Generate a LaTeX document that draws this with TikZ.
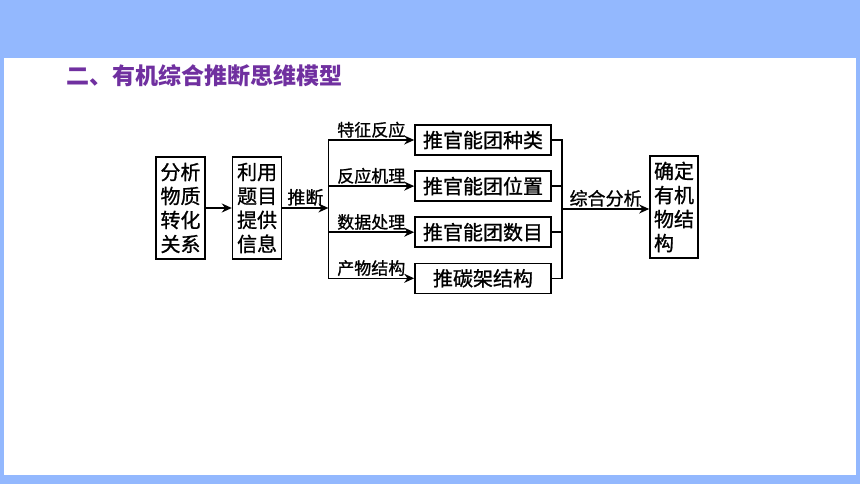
\documentclass[tikz,border=0pt]{standalone}
\usepackage{fontspec}
\setmainfont{Noto Sans CJK SC}
\newfontfamily\boxfont[FakeBold=1]{Noto Sans CJK SC}
\usetikzlibrary{positioning,arrows.meta}
\definecolor{frameblue}{HTML}{93B8FE}
\definecolor{titlepurple}{HTML}{7030A0}
\tikzstyle{process} = [rectangle, draw=black, line width=1.6pt, inner sep=1pt, font=\boxfont\fontsize{20}{24}\selectfont]
\tikzstyle{tallbox} = [process, minimum width=49pt, minimum height=102pt, align=center]
\tikzstyle{widebox} = [process, minimum width=136pt, minimum height=30pt]
\tikzstyle{tag} = [inner sep=1.5pt, font=\boxfont\fontsize{17}{20}\selectfont]
\tikzstyle{arrow} = [-{Stealth[length=10pt,width=9pt]}, line width=1.6pt]
\tikzstyle{line} = [line width=1.6pt]

\begin{document}
\begin{tikzpicture}[x=1pt,y=-1pt]
		\useasboundingbox (0,0) rectangle (860,484);
		\fill [frameblue] (0,0) rectangle (860,484);
		\fill [white] (4,58) rectangle (856,475);
		
		\node (title) [anchor=west, text=titlepurple, font=\fontsize{23}{26}\selectfont\bfseries] at (63,76) {二、有机综合推断思维模型};
		
		\node (analyse) [tallbox] at (180.5,208) {分析\\物质\\转化\\关系};
		\node (given-info) [tallbox,right=26pt of analyse] {利用\\题目\\提供\\信息};
		\coordinate [right=46pt of given-info.east] (fork);
		
		\node (kind) [widebox] at (483,140) {推官能团种类};
		\node (position) [widebox,below=14.5pt of kind] {推官能团位置};
		\node (number) [widebox,below=14.5pt of position] {推官能团数目};
		\node (skeleton) [widebox,below=14.5pt of number] {推碳架结构};
		
		\coordinate (join) at (562,209);
		\node (result) [tallbox,minimum width=48pt,align=left] at (674,207) {确定\\有机\\物结\\构};
		
		\draw [arrow] (analyse) -- (given-info);
		\draw [arrow] (given-info) -- node[tag,above,font=\boxfont\fontsize{18}{20}\selectfont]{推断} (fork);
		
		\draw [arrow] (fork) |- node[tag,pos=0.75,above]{特征反应} (kind);
		\draw [arrow] (fork) |- node[tag,pos=0.75,above]{反应机理} (position);
		\draw [arrow] (fork) |- node[tag,pos=0.75,above]{数据处理} (number);
		\draw [arrow] (fork) |- node[tag,pos=0.75,above]{产物结构} (skeleton);
		
		\draw [line] (kind) -| (join);
		\draw [line] (skeleton) -| (join);
		\draw [line] (position) -- (position -| join);
		\draw [line] (number) -- (number -| join);
		\draw [arrow] (join) -- node[tag,above,font=\boxfont\fontsize{18}{20}\selectfont]{综合分析} (result.west |- join);
		
	\end{tikzpicture}
\end{document}
